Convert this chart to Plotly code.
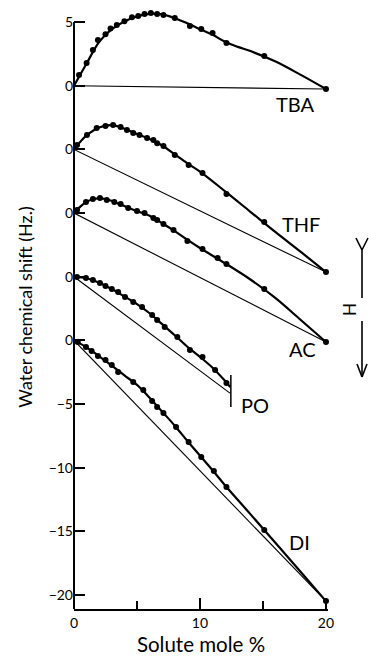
import plotly.graph_objects as go

# ---------------- data ----------------
SERIES = ["TBA", "THF", "AC", "PO", "DI"]
OFFSETS = [20, 15, 10, 5, 0]          # vertical offset of each curve's zero

# measured points (dots)
TBA_X = [0.4, 1.0, 1.5, 1.9, 2.5, 2.9, 3.4, 4.0, 4.6, 5.1, 5.6, 6.1, 6.6, 7.1, 8.0, 9.2, 10.1, 11.0, 12.1, 15.1, 20.0]
TBA_Y = [0.84, 1.78, 2.8, 3.6, 4.05, 4.5, 4.76, 5.07, 5.38, 5.48, 5.63, 5.71, 5.63, 5.55, 5.32, 4.69, 4.45, 4.14, 3.35, 2.33, -0.26]
THF_X = [0.24, 1.03, 1.8, 2.5, 3.1, 3.7, 4.2, 4.7, 5.2, 5.8, 6.3, 6.6, 7.1, 8.0, 9.1, 10.2, 12.1, 15.1, 20.0]
THF_Y = [0.34, 1.12, 1.67, 1.83, 1.91, 1.75, 1.52, 1.28, 1.12, 0.89, 0.73, 0.49, 0.26, -0.45, -1.23, -1.86, -3.51, -5.71, -9.64]
AC_X = [0.24, 0.95, 1.5, 2.06, 2.6, 3.2, 3.7, 4.3, 5.0, 5.6, 6.3, 6.6, 7.1, 7.9, 9.0, 10.2, 11.4, 12.1, 15.1, 20.0]
AC_Y = [0.24, 0.86, 1.1, 1.18, 1.02, 0.86, 0.71, 0.39, 0.16, 0.0, -0.39, -0.55, -0.86, -1.33, -2.2, -2.83, -3.53, -4.0, -5.97, -10.13]
PO_X = [0.24, 0.95, 1.5, 2.06, 2.5, 3.0, 3.5, 4.05, 4.7, 5.4, 6.2, 6.6, 7.2, 8.2, 9.2, 10.2, 11.2, 12.1]
PO_Y = [-0.03, -0.1, -0.26, -0.5, -0.73, -0.97, -1.21, -1.6, -1.99, -2.38, -3.0, -3.4, -3.96, -4.74, -5.76, -6.31, -7.33, -8.35]
DI_X = [0.3, 0.95, 1.4, 1.9, 2.5, 3.0, 3.5, 4.7, 5.5, 6.2, 6.6, 7.1, 8.1, 9.1, 10.1, 11.1, 12.1, 15.1, 20.0]
DI_Y = [-0.13, -0.53, -0.84, -1.23, -1.55, -1.94, -2.49, -3.27, -3.9, -4.77, -5.24, -5.71, -6.81, -7.99, -9.17, -10.27, -11.52, -14.9, -20.48]

# smooth drawn curves
TBA_CX = [0, 1, 2, 3, 4, 5, 6, 7, 8, 9, 10, 11, 12, 13, 14, 16, 18, 20]
TBA_CY = [0, 1.75, 3.45, 4.45, 5.05, 5.45, 5.65, 5.6, 5.3, 4.9, 4.45, 4.0, 3.45, 3.05, 2.72, 1.9, 0.85, -0.26]
THF_CX = [0, 0.5, 1, 2, 3, 4, 5, 6, 7, 8, 9, 10, 12, 14, 16, 18, 20]
THF_CY = [0, 0.6, 1.1, 1.72, 1.9, 1.62, 1.2, 0.82, 0.3, -0.4, -1.1, -1.75, -3.3, -4.9, -6.5, -8.05, -9.64]
AC_CX = [0, 0.5, 1, 1.5, 2, 2.5, 3, 4, 5, 6, 7, 8, 9, 10, 12, 14, 16, 18, 20]
AC_CY = [0, 0.5, 0.88, 1.08, 1.15, 1.1, 0.95, 0.55, 0.15, -0.22, -0.8, -1.42, -2.1, -2.75, -3.95, -5.22, -6.68, -8.4, -10.13]
PO_CX = [0, 1, 2, 3, 4, 5, 6, 7, 8, 9, 10, 11, 12, 12.4]
PO_CY = [0, -0.12, -0.47, -0.97, -1.55, -2.15, -2.87, -3.73, -4.6, -5.5, -6.3, -7.15, -8.2, -8.67]
DI_CX = [0, 1, 2, 3, 4, 5, 6, 7, 8, 9, 10, 11, 12, 14, 16, 18, 20]
DI_CY = [0, -0.55, -1.25, -1.98, -2.75, -3.5, -4.5, -5.6, -6.7, -7.9, -9.05, -10.2, -11.4, -13.65, -15.92, -18.2, -20.48]

# straight reference lines (origin to end value)
LINE_END_X = [20.0, 20.0, 20.0, 12.38, 20.0]
LINE_END_Y = [-0.26, -9.64, -10.13, -9.14, -20.48]

PO_LIMIT_X = 12.45            # solubility limit bar
PO_LIMIT_Y = [-7.72, -10.24]

LABEL_X = [17.6, 18.0, 18.1, 14.4, 17.9]
LABEL_Y = [-1.44, -5.86, -10.68, -10.1, -15.8]

Y_TICKVALS = [-20, -15, -10, -5, 0, 5, 10, 15, 20, 25]
Y_TICKTEXT = ["\u221220", "\u221215", "\u221210", "\u22125", "0", "0", "0", "0", "0", "5"]
X_TICKVALS = [0, 10, 20]
X_TICKTEXT = ["0", "10", "20"]

X_TITLE = "Solute mole %"
Y_TITLE = "Water chemical shift (Hz.)"

# ---------------- layout constants ----------------
W, H = 369, 662
ML, MR, MT, MB = 74, 41, 5, 53
XMIN, XMAX = 0, 20.16
YMIN, YMAX = -21.1, 26.34
FONT = "Lato"

DOTS = {"TBA": (TBA_X, TBA_Y), "THF": (THF_X, THF_Y), "AC": (AC_X, AC_Y),
        "PO": (PO_X, PO_Y), "DI": (DI_X, DI_Y)}
CURVES = {"TBA": (TBA_CX, TBA_CY), "THF": (THF_CX, THF_CY), "AC": (AC_CX, AC_CY),
          "PO": (PO_CX, PO_CY), "DI": (DI_CX, DI_CY)}

fig = go.Figure()
for i, (name, off) in enumerate(zip(SERIES, OFFSETS)):
    # thin straight reference line from origin to end
    fig.add_trace(go.Scatter(x=[0, LINE_END_X[i]], y=[off, LINE_END_Y[i] + off], mode="lines",
                             line=dict(color="black", width=1.1),
                             showlegend=False, hoverinfo="skip"))
    cx, cy = CURVES[name]
    fig.add_trace(go.Scatter(x=cx, y=[v + off for v in cy], mode="lines",
                             line=dict(color="black", width=2.2, shape="spline", smoothing=1.0),
                             showlegend=False, hoverinfo="skip"))
    dx, dy = DOTS[name]
    fig.add_trace(go.Scatter(x=dx, y=[v + off for v in dy], mode="markers",
                             marker=dict(color="black", size=6),
                             cliponaxis=False, showlegend=False))
    fig.add_annotation(x=LABEL_X[i], y=LABEL_Y[i] + off, text=name, showarrow=False,
                       font=dict(family=FONT, size=20, color="black"))

# PO solubility bar
fig.add_trace(go.Scatter(x=[PO_LIMIT_X, PO_LIMIT_X],
                         y=[PO_LIMIT_Y[0] + 5, PO_LIMIT_Y[1] + 5], mode="lines",
                         line=dict(color="black", width=1.5),
                         showlegend=False, cliponaxis=False, hoverinfo="skip"))

def P(px, py):
    return (px - ML) / (W - ML - MR), (H - MB - py) / (H - MT - MB)

shapes = []
# y axis line from bottom up to the top tick (25)
ytop = (25 - YMIN) / (YMAX - YMIN)
shapes.append(dict(type="line", xref="paper", yref="paper", x0=0, x1=0, y0=0, y1=ytop,
                   line=dict(color="black", width=2)))

def seg(a, b, w=1.6):
    x0, y0 = P(*a)
    x1, y1 = P(*b)
    shapes.append(dict(type="line", xref="paper", yref="paper", x0=x0, y0=y0, x1=x1, y1=y1,
                       line=dict(color="black", width=w)))

# H arrow on the right
seg((356, 238), (362, 250))
seg((368, 238), (362, 250))
seg((362, 250), (362, 298))
seg((362, 321), (362, 377))
seg((357, 364), (362, 377))
seg((367, 364), (362, 377))
hx, hy = P(362, 309.5)
fig.add_annotation(xref="paper", yref="paper", x=hx, y=hy, text="H", showarrow=False,
                   textangle=90, font=dict(family=FONT, size=17, color="black"))

fig.update_layout(
    width=W, height=H,
    margin=dict(l=ML, r=MR, t=MT, b=MB),
    paper_bgcolor="white", plot_bgcolor="white",
    font=dict(family=FONT, color="black"),
    shapes=shapes,
    hovermode=False,
    xaxis=dict(range=[XMIN, XMAX], tickvals=X_TICKVALS, ticktext=X_TICKTEXT,
               ticks="inside", ticklen=11, tickwidth=1.5, tickcolor="black",
               minor=dict(dtick=5, tick0=0, ticks="inside", ticklen=8, tickwidth=1.5, tickcolor="black"),
               showline=True, linecolor="black", linewidth=2, mirror=False,
               showgrid=False, zeroline=False,
               tickfont=dict(family=FONT, size=14, color="black"),
               title=dict(text=X_TITLE, font=dict(family=FONT, size=20.5, color="black"), standoff=8)),
    yaxis=dict(range=[YMIN, YMAX], tickvals=Y_TICKVALS, ticktext=Y_TICKTEXT,
               ticks="inside", ticklen=11, tickwidth=1.5, tickcolor="black",
               showline=False, showgrid=False, zeroline=False,
               tickfont=dict(family=FONT, size=14, color="black"),
               title=dict(text=Y_TITLE, font=dict(family=FONT, size=18, color="black"), standoff=11)),
)

fig.write_html("out.html", config={"displayModeBar": False},
               post_script="document.body.style.margin='0px';document.body.style.padding='0px';")
